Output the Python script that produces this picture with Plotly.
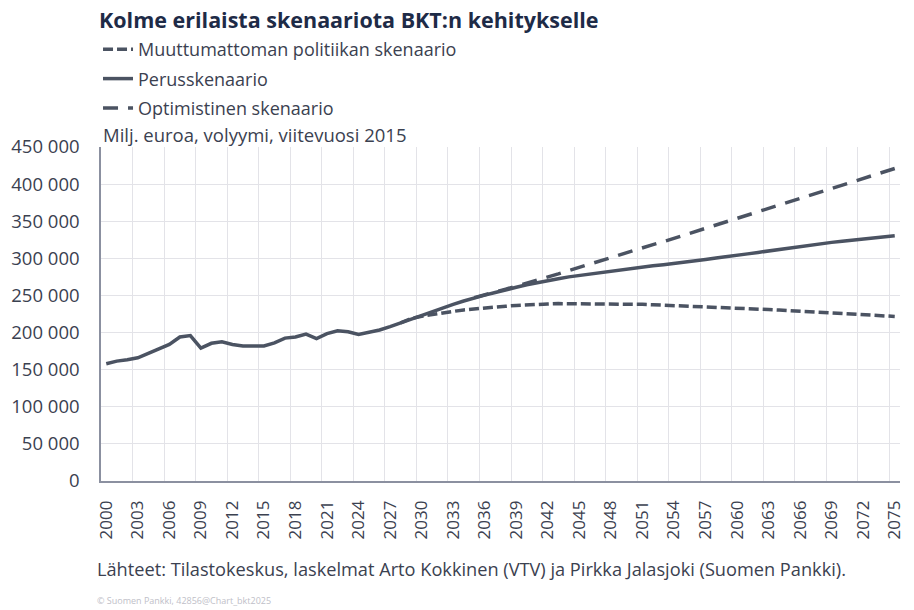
import plotly.graph_objects as go

LINE_COLOR = '#4b5362'
TEXT_COLOR = '#3b4150'
TITLE_COLOR = '#1e2b47'
FONT = 'Open Sans'

W, H = 914, 610
PLOT_L, PLOT_R, PLOT_T, PLOT_B = 101, 905, 147, 481

years = list(range(2000, 2076))

# Perusskenaario (history + baseline), million euro
base = [
    158000, 161500, 163500, 166000, 172000, 177500, 184000, 194000, 196000, 179000,
    185500, 187500, 184000, 182000, 181500, 182000, 186000, 192500, 194000, 198000,
    192000, 198500, 202500, 201000, 197500, 200000, 203500, 208000, 213000, 219000,
    224000, 229000, 233500, 238000, 242500, 247000, 250500, 254000, 258000, 261000,
    264500, 267500, 270000, 272500, 275000, 277000, 279000, 281000, 283000, 285000,
    287000, 288500, 290000, 291500, 293000, 294500, 296500, 298500, 300500, 302000,
    304000, 306000, 308000, 310000, 312000, 314500, 316500, 318500, 320000, 321500,
    323000, 324500, 326000, 327500, 329000, 330500,
]

pess_years = list(range(2028, 2076))
pessimistic = [
    213000, 219000, 222000, 224500, 226500, 228500, 230500, 232000, 233500, 234500,
    235500, 236500, 237500, 238000, 238500, 239000, 239000, 239000, 239000, 239000,
    239000, 238700, 238500, 238000, 237500, 237000, 236500, 236000, 235500, 235000,
    234300, 233600, 233000, 232300, 231700, 231000, 230300, 229600, 228900, 228100,
    227300, 226500, 225700, 224900, 224100, 223300, 222500, 221700,
]

opt_years = list(range(2035, 2076))
optimistic = [
    247000, 250500, 254000, 258500, 262500, 266500, 270000, 274500, 279000, 283500,
    288000, 292500, 297000, 301000, 305500, 310000, 314000, 318500, 322500, 327000,
    331500, 336000, 340000, 344500, 349000, 353500, 358000, 362500, 366500, 371000,
    375500, 380000, 384500, 389000, 393500, 398000, 402500, 407000, 411500, 416000,
    421000,
]

tick_years = list(range(2000, 2076, 3))
grid_years = [y + 0.5 for y in range(2002, 2075, 3)]


def px_x(x):
    return (x - PLOT_L) / (PLOT_R - PLOT_L)


def px_y(y):
    return (PLOT_B - y) / (PLOT_B - PLOT_T)


fig = go.Figure()
fig.add_trace(go.Scatter(x=pess_years, y=pessimistic, mode='lines',
                         name='Muuttumattoman politiikan skenaario', legendgroup='a',
                         line=dict(color=LINE_COLOR, width=3.5, dash='10px,4px')))
fig.add_trace(go.Scatter(x=years, y=base, mode='lines', name='Perusskenaario', legendgroup='b',
                         line=dict(color=LINE_COLOR, width=3.5)))
fig.add_trace(go.Scatter(x=opt_years, y=optimistic, mode='lines',
                         name='Optimistinen skenaario', legendgroup='c',
                         line=dict(color=LINE_COLOR, width=3.5, dash='15px,10px')))

fig.update_layout(
    width=W, height=H,
    margin=dict(l=PLOT_L, r=W - PLOT_R, t=PLOT_T, b=H - PLOT_B),
    paper_bgcolor='white', plot_bgcolor='white',
    font=dict(family=FONT, size=17, color=TEXT_COLOR),
    separators=', ',
    title=dict(text='<b>Kolme erilaista skenaariota BKT:n kehitykselle</b>',
               font=dict(family=FONT, size=21.5, color=TITLE_COLOR),
               x=99 / W, xanchor='left', xref='container',
               y=1 - 20 / H, yanchor='middle', yref='container'),
    legend=dict(x=px_x(98), xanchor='left', y=px_y(31), yanchor='top',
                bgcolor='rgba(0,0,0,0)', tracegroupgap=3,
                font=dict(family=FONT, size=18, color=TEXT_COLOR)),
    showlegend=True,
)

fig.update_xaxes(
    range=[1999.5, 2075.5], tickmode='array', tickvals=tick_years,
    ticktext=[str(y) for y in tick_years], tickangle=-90,
    tickfont=dict(family=FONT, size=17, color=TEXT_COLOR),
    ticks='outside', ticklen=11, tickcolor='rgba(0,0,0,0)',
    ticklabeloverflow='allow',
    showgrid=False, zeroline=False,
    showline=True, linecolor='#8b90a0', linewidth=1.5,
    minor=dict(tickmode='array', tickvals=grid_years, showgrid=True,
               gridcolor='#e3e3e8', gridwidth=1, ticks=''),
)
fig.update_yaxes(
    range=[0, 450000], tickmode='linear', tick0=0, dtick=50000,
    tickformat=',d', tickfont=dict(family=FONT, size=18.5, color=TEXT_COLOR),
    showgrid=True, gridcolor='#e3e3e8', gridwidth=1, zeroline=False,
    showline=True, linecolor='#8b90a0', linewidth=1.5,
    ticks='outside', ticklen=16, tickcolor='rgba(0,0,0,0)',
)

fig.add_annotation(text='Milj. euroa, volyymi, viitevuosi 2015', xref='paper', yref='paper',
                   x=px_x(101), y=px_y(135), xanchor='left', yanchor='middle',
                   showarrow=False, font=dict(family=FONT, size=18.5, color=TEXT_COLOR))
fig.add_annotation(text='Lähteet: Tilastokeskus, laskelmat Arto Kokkinen (VTV) ja Pirkka Jalasjoki (Suomen Pankki).',
                   xref='paper', yref='paper',
                   x=px_x(95), y=px_y(569), xanchor='left', yanchor='middle',
                   showarrow=False, font=dict(family=FONT, size=18.2, color=TEXT_COLOR))
fig.add_annotation(text='© Suomen Pankki, 42856@Chart_bkt2025', xref='paper', yref='paper',
                   x=px_x(95), y=px_y(600), xanchor='left', yanchor='middle',
                   showarrow=False, font=dict(family=FONT, size=9, color='#c0c0c8'))

# drop the default 8px body margin so the figure sits at the page corner
fig.write_html('out.html', config={'displayModeBar': False},
               post_script="document.body.style.margin = '0';")
